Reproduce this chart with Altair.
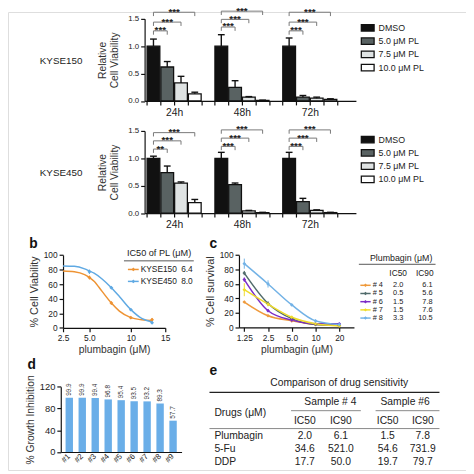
import altair as alt
import pandas as pd

W = H = 466
FONT = "Liberation Sans"


def px(v):
    return round(v - 8, 2)


def py(v):
    return round(v * 0.995 - 5, 2)


# ---------------- panel a data ----------------
times = ["24h", "48h", "72h"]
treatments = ["DMSO", "5.0 μM PL", "7.5 μM PL", "10.0 μM PL"]
treat_colors = ["#111111", "#596262", "#dfe3e3", "#ffffff"]

kyse150_mean = [[1.00, 0.62, 0.33, 0.13], [1.00, 0.25, 0.07, 0.01], [1.00, 0.07, 0.05, 0.03]]
kyse150_err = [[0.13, 0.10, 0.12, 0.03], [0.21, 0.12, 0.01, 0.005], [0.15, 0.03, 0.02, 0.01]]
kyse450_mean = [[1.00, 0.74, 0.55, 0.19], [1.00, 0.52, 0.04, 0.01], [1.00, 0.21, 0.05, 0.01]]
kyse450_err = [[0.04, 0.12, 0.02, 0.06], [0.11, 0.03, 0.01, 0.005], [0.11, 0.06, 0.01, 0.005]]
kyse150_stars = [["***", "***", "***"], ["***", "***", "***"], ["***", "***", "***"]]
kyse450_stars = [["**", "***", "***"], ["***", "***", "***"], ["***", "***", "***"]]
kyse150_levels = [[1.28, 1.44, 1.62], [1.35, 1.49, 1.64], [1.28, 1.44, 1.62]]
kyse450_levels = [[1.17, 1.32, 1.47], [1.22, 1.37, 1.52], [1.22, 1.37, 1.52]]

# ---------------- panel b data ----------------
b_series = ["KYSE150", "KYSE450"]
b_colors = ["#ee9333", "#5fa9e3"]
b_ic50 = [6.4, 8.0]
b_doses = [5.0, 7.5, 10.0, 13.0]
b_kyse150 = [69, 34, 14, 11]
b_kyse150_err = [2.5, 2.0, 1.5, 2.5]
b_kyse450 = [77, 55, 25, 7]
b_kyse450_err = [3.0, 1.5, 1.5, 1.5]
b_fit_x = [2.5, 3.5, 4.5, 5.0, 5.5, 6.4, 7.5, 8.5, 10.0, 11.5, 13.0]
b_fit_kyse150 = [78, 77, 73, 69, 64, 50, 34, 23, 14, 11, 10]
b_fit_kyse450 = [85, 84.5, 81, 78, 75, 67, 55, 43, 25, 13, 8]

# ---------------- panel c data ----------------
c_series = ["# 4", "# 5", "# 6", "# 7", "# 8"]
c_colors = ["#ef9a3c", "#516b6b", "#7b2cc6", "#efdc2a", "#72b2e6"]
c_doses = [1.25, 2.5, 5.0, 10.0, 20.0]
c_s4 = [35, 16, 9, 4, 3]
c_s5 = [75, 33, 12, 4, 3]
c_s6 = [66, 23, 10, 5, 5]
c_s7 = [52, 32, 14, 5, 2]
c_s8 = [88, 60, 31, 9, 4]
c_s4_err = [1.5, 1.0, 1.0, 1.0, 1.0]
c_s5_err = [3.0, 3.0, 2.0, 1.0, 1.0]
c_s6_err = [3.0, 2.0, 1.0, 1.0, 1.0]
c_s7_err = [9.0, 3.0, 2.0, 1.0, 1.0]
c_s8_err = [7.0, 5.0, 1.5, 1.5, 1.0]
c_ic50 = [2.0, 0.5, 1.5, 1.5, 3.3]
c_ic90 = [6.1, 5.6, 7.8, 7.6, 10.5]

# ---------------- panel d data ----------------
d_samples = ["#1", "#2", "#3", "#4", "#5", "#6", "#7", "#8", "#9"]
d_values = [99.9, 99.9, 99.4, 96.8, 95.4, 93.5, 93.2, 89.3, 57.7]

# ---------------- panel e data ----------------
e_drugs = ["Plumbagin", "5-Fu", "DDP"]
e_s4_ic50 = [2.0, 34.6, 17.7]
e_s4_ic90 = [6.1, 521.0, 50.0]
e_s6_ic50 = [1.5, 54.6, 19.7]
e_s6_ic90 = [7.8, 731.9, 79.7]

AX = dict(grid=False, domainColor="#111", domainWidth=1.2, tickColor="#111", tickWidth=1.2,
          tickSize=4, labelFont=FONT, labelColor="#222", titleFont=FONT, titleColor="#333",
          titleFontWeight="normal", labelFlush=False)


def axis(**kw):
    d = dict(AX)
    d.update(kw)
    return alt.Axis(**d)


def one(value):
    return alt.Chart(pd.DataFrame({"t": [value]}))


def txt(s, x, y, size=10, weight="normal", align="center", baseline="middle", color="#222"):
    return one(s).mark_text(font=FONT, fontSize=size, fontWeight=weight, align=align,
                            baseline=baseline, color=color).encode(
        text="t:N", x=alt.value(px(x)), y=alt.value(py(y)))


def hline(x1, x2, y, color="#555", width=1.0):
    return one(0).mark_rule(color=color, strokeWidth=width).encode(
        x=alt.value(px(x1)), x2=alt.value(px(x2)), y=alt.value(py(y)))


STEP = 0.203
HALF = 0.094
CAP = 0.05
DROP = 0.07


def panel_a(means, errs, stars, levels, name, y0, y15, name_y, leg_y):
    rows = []
    for g in range(len(times)):
        for k, tr in enumerate(treatments):
            rows.append({"g": g, "k": k, "treat": tr, "mean": means[g][k], "err": errs[g][k]})
    bars_df = pd.DataFrame(rows)
    brows = []
    for g in range(len(times)):
        for j in range(3):
            brows.append({"g": g, "k": j + 1, "star": stars[g][j], "level": levels[g][j]})
    br_df = pd.DataFrame(brows)

    xsc = alt.Scale(domain=[-0.435, 2.68], range=[px(147), px(362)], nice=False, zero=False)
    ysc = alt.Scale(domain=[0, 1.5], range=[py(y0), py(y15)], nice=False, zero=False)
    ticks = [round(g + o * STEP, 3) for g in range(3) for o in (-2, -1, 0, 1, 2)]
    xax = axis(orient="bottom", offset=round(py(y0) - H, 2), values=ticks,
               labelExpr="datum.value == 0 ? '24h' : datum.value == 1 ? '48h' : datum.value == 2 ? '72h' : ''",
               labelFontSize=10.5, labelPadding=3, labelOverlap=False)
    yax = axis(orient="left", offset=-px(147), values=[0, 0.5, 1.0, 1.5], format=".1f",
               title=["Relative", "Cell Viability"], titleFontSize=10.5, titlePadding=8,
               labelFontSize=8, labelPadding=2)

    def X(f):
        return alt.X(f, scale=xsc, axis=xax, title=None)

    def Y(f):
        return alt.Y(f, scale=ysc, axis=yax)

    leg = alt.Legend(orient="none", legendX=px(368), legendY=py(leg_y),
                     symbolType="M-1.3,-0.65H1.3V0.65H-1.3Z", symbolSize=100,
                     symbolStrokeColor="#111", symbolStrokeWidth=1.3, symbolOpacity=1,
                     labelFont=FONT, labelFontSize=9, labelColor="#222", rowPadding=1.5,
                     labelOffset=5)

    calc = (alt.Chart(bars_df)
            .transform_calculate(c=f"datum.g + (datum.k - 1.5) * {STEP}")
            .transform_calculate(l=f"datum.c - {HALF}", r=f"datum.c + {HALF}",
                                 cl=f"datum.c - {CAP}", cr=f"datum.c + {CAP}",
                                 top="datum.mean + datum.err"))
    bars = calc.mark_bar(stroke="#111", strokeWidth=1.3, opacity=1).encode(
        x=X("l:Q"), x2="r:Q", y=Y("mean:Q"), y2=alt.datum(0),
        color=alt.Color("treat:N", scale=alt.Scale(domain=treatments, range=treat_colors),
                        title=None, legend=leg))
    stem = calc.mark_rule(color="#111", strokeWidth=1.4).encode(x=X("c:Q"), y=Y("mean:Q"), y2="top:Q")
    cap = calc.mark_rule(color="#111", strokeWidth=1.4).encode(x=X("cl:Q"), x2="cr:Q", y=Y("top:Q"))

    bc = (alt.Chart(br_df)
          .transform_calculate(d=f"datum.g - 1.5 * {STEP}", t=f"datum.g + (datum.k - 1.5) * {STEP}")
          .transform_calculate(m="(datum.d + datum.t) / 2", lo=f"datum.level - {DROP}"))
    hbar = bc.mark_rule(color="#777", strokeWidth=1).encode(x=X("d:Q"), x2="t:Q", y=Y("level:Q"))
    lt = bc.mark_rule(color="#777", strokeWidth=1).encode(x=X("d:Q"), y=Y("level:Q"), y2="lo:Q")
    rt = bc.mark_rule(color="#777", strokeWidth=1).encode(x=X("t:Q"), y=Y("level:Q"), y2="lo:Q")
    st = bc.mark_text(font=FONT, fontSize=10, fontWeight="bold", color="#222",
                      baseline="alphabetic", dy=2.5).encode(x=X("m:Q"), y=Y("level:Q"), text="star:N")
    return alt.layer(bars, stem, cap, hbar, lt, rt, st, txt(name, 62, name_y, 10))


def panel_b():
    fit = pd.DataFrame([{"s": s, "x": x, "y": y}
                        for s, ys in zip(b_series, [b_fit_kyse150, b_fit_kyse450])
                        for x, y in zip(b_fit_x, ys)])
    pts = pd.DataFrame([{"s": s, "x": x, "y": y, "e": e}
                        for s, ys, es in zip(b_series, [b_kyse150, b_kyse450], [b_kyse150_err, b_kyse450_err])
                        for x, y, e in zip(b_doses, ys, es)])
    xsc = alt.Scale(type="pow", exponent=0.65, domain=[2.5, 15], range=[px(64), px(168)], nice=False, zero=False)
    ysc = alt.Scale(domain=[0, 100], range=[py(328), py(253.5)], nice=False, zero=False)
    xax = axis(orient="bottom", offset=round(py(328) - H, 2), values=[2.5, 5, 10, 15],
               labelExpr="datum.value < 6 ? format(datum.value, '.1f') : format(datum.value, 'd')",
               title="plumbagin (μM)", titleFontSize=10.5, titlePadding=3, labelFontSize=8.5, labelPadding=2)
    yax = axis(orient="left", offset=-px(64), values=[0, 20, 40, 60, 80, 100],
               title="% Cell Viability", titleFontSize=11, titlePadding=4, labelFontSize=8.5, labelPadding=2)
    col = alt.Color("s:N", scale=alt.Scale(domain=b_series, range=b_colors), legend=None)
    line = alt.Chart(fit).mark_line(interpolate="monotone", strokeWidth=1.5).encode(
        x=alt.X("x:Q", scale=xsc, axis=xax), y=alt.Y("y:Q", scale=ysc, axis=yax), color=col)
    pc = alt.Chart(pts).transform_calculate(lo="datum.y - datum.e", hi="datum.y + datum.e")
    err = pc.mark_rule(strokeWidth=1).encode(
        x=alt.X("x:Q", scale=xsc, axis=xax), y=alt.Y("lo:Q", scale=ysc, axis=yax), y2="hi:Q", color=col)
    dots = pc.mark_point(shape="diamond", filled=True, size=16, opacity=1).encode(
        x=alt.X("x:Q", scale=xsc, axis=xax), y=alt.Y("y:Q", scale=ysc, axis=yax), color=col)
    return alt.layer(line, err, dots)


def legend_b():
    df = pd.DataFrame({"s": b_series, "v": b_ic50})
    ysc = alt.Scale(type="point", domain=b_series, range=[py(268.3), py(280.5)], padding=0)
    Yr = alt.Y("s:N", scale=ysc, axis=None)
    col = alt.Color("s:N", scale=alt.Scale(domain=b_series, range=b_colors), legend=None)
    base = alt.Chart(df)
    sym = base.mark_rule(strokeWidth=1.5).encode(x=alt.value(px(130)), x2=alt.value(px(141)), y=Yr, color=col)
    dot = base.mark_point(shape="diamond", filled=True, size=14, opacity=1).encode(
        x=alt.value(px(135.5)), y=Yr, color=col)
    lab = base.mark_text(font=FONT, fontSize=8.5, align="left", color="#222").encode(
        x=alt.value(px(143)), y=Yr, text="s:N")
    val = base.mark_text(font=FONT, fontSize=8.5, align="right", color="#222").encode(
        x=alt.value(px(196)), y=Yr, text=alt.Text("v:Q", format=".1f"))
    return alt.layer(sym, dot, lab, val, txt("IC50 of PL (μM)", 161.7, 251.5, 9.3),
                     hline(126, 197, 259.5, "#555", 1))


def panel_c():
    vals = [c_s4, c_s5, c_s6, c_s7, c_s8]
    errs = [c_s4_err, c_s5_err, c_s6_err, c_s7_err, c_s8_err]
    pts = pd.DataFrame([{"s": s, "x": x, "y": y, "e": e}
                        for s, ys, es in zip(c_series, vals, errs)
                        for x, y, e in zip(c_doses, ys, es)])
    xsc = alt.Scale(type="log", domain=[1.07, 30.7], range=[px(243), px(360)], nice=False)
    ysc = alt.Scale(domain=[0, 100], range=[py(327.5), py(253.5)], nice=False, zero=False)
    xax = axis(orient="bottom", offset=round(py(327.5) - H, 2), values=[1.25, 2.5, 5, 10, 20],
               labelExpr="datum.value == 1.25 ? '1.25' : datum.value < 6 ? format(datum.value, '.1f') : format(datum.value, 'd')",
               title="plumbagin (μM)", titleFontSize=10.5, titlePadding=3, labelFontSize=8.5, labelPadding=2)
    yax = axis(orient="left", offset=-px(243), values=[0, 20, 40, 60, 80, 100],
               title="% Cell survival", titleFontSize=11, titlePadding=4, labelFontSize=8.5, labelPadding=2)
    col = alt.Color("s:N", scale=alt.Scale(domain=c_series, range=c_colors), legend=None)
    pc = alt.Chart(pts).transform_calculate(lo="datum.y - datum.e", hi="datum.y + datum.e")
    Xc = alt.X("x:Q", scale=xsc, axis=xax)
    line = pc.mark_line(interpolate="monotone", strokeWidth=1.5).encode(
        x=Xc, y=alt.Y("y:Q", scale=ysc, axis=yax), color=col)
    err = pc.mark_rule(strokeWidth=1).encode(x=Xc, y=alt.Y("lo:Q", scale=ysc, axis=yax), y2="hi:Q", color=col)
    dots = pc.mark_point(shape="diamond", filled=True, size=14, opacity=1).encode(
        x=Xc, y=alt.Y("y:Q", scale=ysc, axis=yax), color=col)
    return alt.layer(line, err, dots)


def legend_c():
    df = pd.DataFrame({"s": c_series, "a": c_ic50, "b": c_ic90})
    ysc = alt.Scale(type="point", domain=c_series, range=[py(284.5), py(318)], padding=0)
    Yr = alt.Y("s:N", scale=ysc, axis=None)
    col = alt.Color("s:N", scale=alt.Scale(domain=c_series, range=c_colors), legend=None)
    base = alt.Chart(df)
    sym = base.mark_rule(strokeWidth=1.5).encode(x=alt.value(px(366.5)), x2=alt.value(px(377)), y=Yr, color=col)
    dot = base.mark_point(shape="diamond", filled=True, size=12, opacity=1).encode(
        x=alt.value(px(371.7)), y=Yr, color=col)
    lab = base.mark_text(font=FONT, fontSize=7.5, align="left", color="#222").encode(
        x=alt.value(px(379)), y=Yr, text="s:N")
    v50 = base.mark_text(font=FONT, fontSize=7.5, align="center", color="#222").encode(
        x=alt.value(px(405)), y=Yr, text=alt.Text("a:Q", format=".1f"))
    v90 = base.mark_text(font=FONT, fontSize=7.5, align="right", color="#222").encode(
        x=alt.value(px(440)), y=Yr, text=alt.Text("b:Q", format=".1f"))
    return alt.layer(sym, dot, lab, v50, v90,
                     txt("Plumbagin (μM)", 408, 256.7, 9),
                     hline(365, 443, 263, "#555", 1),
                     txt("IC50", 405, 272.3, 8.5), txt("IC90", 432, 272.3, 8.5))


def panel_d():
    df = pd.DataFrame({"s": d_samples, "v": d_values})
    xsc = alt.Scale(type="band", domain=d_samples, range=[px(61.7), px(184.6)],
                    paddingInner=0.43, paddingOuter=0.37)
    ysc = alt.Scale(domain=[0, 120], range=[py(455), py(388.3)], nice=False, zero=False)
    xax = axis(orient="bottom", offset=round(py(455) - H, 2), labelAngle=315, labelAlign="right",
               labelBaseline="middle", labelFontSize=8, labelPadding=3, ticks=False)
    yax = axis(orient="left", offset=-px(61.7), values=[0, 40, 80, 120],
               title="% Growth Inhibition", titleFontSize=10.5, titlePadding=4,
               labelFontSize=9.5, labelPadding=2)
    Xd = alt.X("s:N", scale=xsc, axis=xax, title=None)
    Yd = alt.Y("v:Q", scale=ysc, axis=yax)
    bars = alt.Chart(df).mark_bar(color="#6aaee8").encode(x=Xd, y=Yd)
    labels = alt.Chart(df).mark_text(angle=270, align="left", baseline="middle", dx=2,
                                     font=FONT, fontSize=6.5, color="#333").encode(
        x=Xd, y=Yd, text=alt.Text("v:Q", format=".1f"))
    return alt.layer(bars, labels)


def panel_e():
    df = pd.DataFrame({"drug": e_drugs, "a": e_s4_ic50, "b": e_s4_ic90,
                       "c": e_s6_ic50, "d": e_s6_ic90})
    ysc = alt.Scale(type="point", domain=e_drugs, range=[py(438.5), py(465)], padding=0)
    Yr = alt.Y("drug:N", scale=ysc, axis=None)
    base = alt.Chart(df)
    layers = [base.mark_text(font=FONT, fontSize=10.5, align="left", color="#222").encode(
        x=alt.value(px(218)), y=Yr, text="drug:N")]
    for fld, xc in zip(["a", "b", "c", "d"], [310, 346.7, 394.3, 430]):
        layers.append(base.mark_text(font=FONT, fontSize=10.5, align="center", color="#222").encode(
            x=alt.value(px(xc)), y=Yr, text=alt.Text(f"{fld}:Q", format=".1f")))
    layers += [
        txt("Comparison of drug sensitivity", 345, 384.5, 10.5),
        hline(213, 447, 394, "#222", 1.5),
        txt("Sample # 4", 336, 403.5, 10.5),
        txt("Sample #6", 412, 403.5, 10.5),
        hline(296, 367, 412.7, "#888", 1),
        hline(382, 447, 412.7, "#888", 1),
        txt("Drugs (μM)", 218, 415, 10.5, align="left"),
        txt("IC50", 310, 423.5, 10.5), txt("IC90", 346.7, 423.5, 10.5),
        txt("IC50", 394.3, 423.5, 10.5), txt("IC90", 430, 423.5, 10.5),
        hline(213, 447, 431, "#888", 1),
    ]
    return alt.layer(*layers)


a1 = panel_a(kyse150_mean, kyse150_err, kyse150_stars, kyse150_levels, "KYSE150", 96, 12, 55, 15.2)
a2 = panel_a(kyse450_mean, kyse450_err, kyse450_stars, kyse450_levels, "KYSE450", 210.7, 126.7, 170, 129.5)

letters = [txt("b", 34, 242, 14, "bold", color="#111"), txt("c", 217, 242, 14, "bold", color="#111"),
           txt("d", 32, 366, 14, "bold", color="#111"), txt("e", 217, 372, 14, "bold", color="#111")]

chart = (alt.layer(a1, a2, panel_b(), legend_b(), panel_c(), legend_c(), panel_d(), panel_e(), *letters)
         .resolve_scale(x="independent", y="independent", color="independent")
         .properties(width=W, height=H, padding=0, autosize=alt.AutoSizeParams(type="none"))
         .configure_view(stroke=None)
         .configure(font=FONT))

chart.save("out.html", embed_options={"renderer": "svg", "actions": False})
